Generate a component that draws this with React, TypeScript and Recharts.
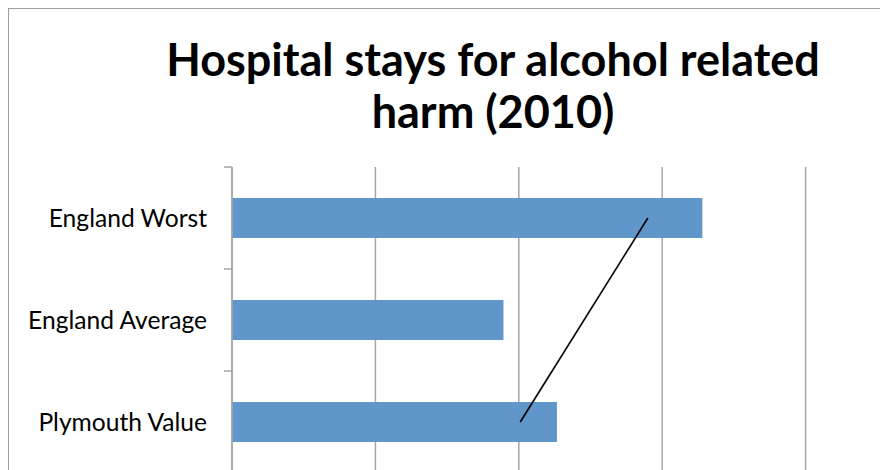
import React from "react";
import {
  BarChart,
  Bar,
  XAxis,
  YAxis,
  CartesianGrid,
  ReferenceLine,
} from "recharts";

const categories = ["England Worst", "England Average", "Plymouth Value"];
const values = [3280, 1893, 2266];
const xTicks = [0, 1000, 2000, 3000, 4000, 5000];

// hand-drawn annotation, from Plymouth up to the worst bar
const arrowFrom = { x: 2010, y: "Plymouth Value" };
const arrowTo = { x: 2900, y: "England Worst" };

const data = categories.map((name, i) => ({ name, value: values[i] }));

const grey = "#a6a6a6";
const plotHeight = 306;
const tickMargin = 17;
const tickSize = 8;

// Excel puts the category tick marks between the bands, not at their centres
function CategoryTick(props: any) {
  const { x, y, payload } = props;
  const half = plotHeight / categories.length / 2;
  const ax = x + tickMargin;
  return (
    <g>
      <line
        x1={ax}
        x2={ax + tickSize}
        y1={y - half}
        y2={y - half}
        stroke={grey}
        strokeWidth={1.5}
      />
      <text
        x={x}
        y={y}
        dy="0.355em"
        textAnchor="end"
        fill="#000"
        fontSize={24.6}
        fontFamily="Lato, sans-serif"
      >
        {payload.value}
      </text>
    </g>
  );
}

// value labels sit below the cropped edge in the original, so draw none
const NoTick = () => <g />;

export default function App() {
  return (
    <div
      style={{
        position: "relative",
        width: 880,
        height: 462,
        overflow: "hidden",
        fontFamily: "Lato, sans-serif",
      }}
    >
      <div
        style={{
          position: "absolute",
          left: 0,
          top: 0,
          width: 1000,
          height: 600,
          border: "1.5px solid #a0a0a0",
        }}
      />
      <div
        style={{
          position: "absolute",
          left: 0,
          top: 25,
          width: 970,
          textAlign: "center",
          fontWeight: 700,
          fontSize: 45,
          lineHeight: "52px",
          color: "#000",
        }}
      >
        Hospital stays for alcohol related
        <br />
        harm (2010)
      </div>
      <div style={{ position: "absolute", left: 0, top: 0 }}>
        <BarChart
          layout="vertical"
          width={960}
          height={159 + plotHeight + 30}
          data={data}
          margin={{ top: 159, right: 19, bottom: 0, left: 0 }}
        >
          <CartesianGrid
            horizontal={false}
            stroke={grey}
            strokeWidth={1.5}
          />
          <XAxis
            type="number"
            domain={[0, 5000]}
            ticks={xTicks}
            height={30}
            axisLine={false}
            tickLine={false}
            tick={<NoTick />}
          />
          <YAxis
            type="category"
            dataKey="name"
            width={224}
            axisLine={{ stroke: grey, strokeWidth: 1.5 }}
            tickLine={false}
            tickSize={tickSize}
            tickMargin={tickMargin}
            interval={0}
            tick={<CategoryTick />}
          />
          <Bar
            dataKey="value"
            fill="#6096c9"
            barSize={40}
            isAnimationActive={false}
          />
          <ReferenceLine
            segment={[arrowFrom, arrowTo]}
            stroke="#000"
            strokeWidth={1.6}
            ifOverflow="visible"
          />
        </BarChart>
      </div>
    </div>
  );
}
